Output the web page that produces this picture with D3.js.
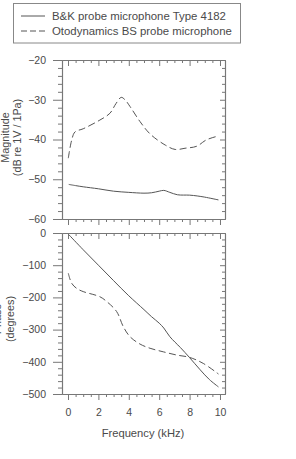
<!DOCTYPE html>
<html lang="en">
<head>
<meta charset="UTF-8">
<title>Probe microphone response</title>
<script src="https://d3js.org/d3.v7.min.js"></script>
<style>
    body { margin: 0; background: #fff; }
    svg text { font-family: "Liberation Sans", Arial, sans-serif; fill: #4a4a4a; }
</style>
</head>
<body>
<div id="chart"></div>
<script>
    // legend labels
    const seriesNames = ["B&K probe microphone Type 4182", "Otodynamics BS probe microphone"];

    // magnitude (dB re 1V/1Pa)
    const bkMagFreq = [0.05, 0.5, 1, 2, 3, 4, 5, 5.5, 6, 6.3, 6.7, 7.2, 8, 8.5, 9, 9.9];
    const bkMag = [-51.3, -51.6, -51.9, -52.4, -53.0, -53.3, -53.5, -53.4, -53.0, -52.8, -53.3, -53.9, -54.0, -54.2, -54.5, -55.2];

    const otoMagFreq = [0.02, 0.24, 0.46, 1.0, 2.1, 2.76, 3.15, 3.5, 3.75, 4.08, 4.74, 5.4, 6.4, 7.05, 7.7, 8.47, 9.1, 9.9];
    const otoMag = [-44.7, -40.2, -38.1, -37.3, -35.1, -33.4, -31.0, -29.4, -30.0, -31.7, -35.5, -38.6, -41.4, -42.5, -42.2, -41.7, -40.1, -39.1];

    // phase (degrees)
    const bkPhaseFreq = [0.05, 1, 2, 3, 4, 5, 5.5, 6, 6.3, 6.7, 7.4, 8, 8.7, 9.3, 9.9];
    const bkPhase = [-5, -52, -100, -148, -195, -238, -260, -280, -295, -322, -356, -387, -425, -455, -478];

    const otoPhaseFreq = [0.02, 0.24, 0.57, 1.0, 2.1, 2.55, 3.2, 3.64, 4.08, 4.74, 5.4, 6.27, 7.15, 7.98, 8.9, 9.9];
    const otoPhase = [-125, -156, -172, -182, -198, -213, -244, -291, -322, -345, -358, -369, -379, -386, -405, -438];

    // ticks
    const freqTicks = [0, 2, 4, 6, 8, 10];
    const magTicks = [-20, -30, -40, -50, -60];
    const phaseTicks = [0, -100, -200, -300, -400, -500];

    const width = 296, height = 459;
    const left = 62, right = 225;
    const lineColor = "#555";
    const axisColor = "#777";

    const svg = d3.select("#chart").append("svg")
        .attr("width", width)
        .attr("height", height);

    const x = d3.scaleLinear().domain([-0.395, 10.33]).range([left, right]);
    const yMag = d3.scaleLinear().domain([-60, -20]).range([219, 60]);
    const yPhase = d3.scaleLinear().domain([-500, 0]).range([394, 233]);

    const minorFreq = d3.range(0, 10.01, 0.5).filter(v => v % 2 !== 0);

    function styleAxis(g) {
        g.selectAll("path").attr("stroke", axisColor).attr("stroke-width", 1.1);
        g.selectAll("line").attr("stroke", axisColor);
        g.selectAll("text").attr("fill", "#4a4a4a")
            .style("font-size", "10.5px")
            .attr("font-family", "Liberation Sans, Arial, sans-serif");
    }

    function drawPanel(y, ticks, minorStep, showXLabels) {
        const [d0, d1] = y.domain();
        const minorY = d3.range(d0, d1 + 0.01, minorStep).filter(v => ticks.indexOf(v) < 0);

        // left axis, ticks outside
        svg.append("g").attr("transform", `translate(${left},0)`)
            .call(d3.axisLeft(y).tickValues(minorY).tickSize(4).tickSizeOuter(0).tickFormat(""))
            .call(styleAxis);
        svg.append("g").attr("transform", `translate(${left},0)`)
            .call(d3.axisLeft(y).tickValues(ticks).tickSize(9).tickSizeOuter(0).tickPadding(7))
            .call(styleAxis);

        // right axis, ticks inside
        svg.append("g").attr("transform", `translate(${right},0)`)
            .call(d3.axisLeft(y).tickValues(minorY).tickSize(3).tickSizeOuter(0).tickFormat(""))
            .call(styleAxis);
        svg.append("g").attr("transform", `translate(${right},0)`)
            .call(d3.axisLeft(y).tickValues(ticks).tickSize(5).tickSizeOuter(0).tickFormat(""))
            .call(styleAxis);

        // top and bottom axes, ticks pointing down
        [y.range()[1], y.range()[0]].forEach((yy, i) => {
            svg.append("g").attr("transform", `translate(0,${yy})`)
                .call(d3.axisBottom(x).tickValues(minorFreq).tickSize(3).tickSizeOuter(0).tickFormat(""))
                .call(styleAxis);
            const major = d3.axisBottom(x).tickValues(freqTicks).tickSize(6).tickSizeOuter(0).tickPadding(9);
            if (!(showXLabels && i === 1)) major.tickFormat("");
            svg.append("g").attr("transform", `translate(0,${yy})`)
                .call(major)
                .call(styleAxis);
        });
    }

    drawPanel(yMag, magTicks, 2, false);
    drawPanel(yPhase, phaseTicks, 20, true);

    function drawLine(freq, vals, y, dashed) {
        const pts = freq.map((f, i) => [f, vals[i]]);
        const line = d3.line()
            .x(d => x(d[0]))
            .y(d => y(d[1]))
            .curve(d3.curveCatmullRom.alpha(0.5));
        svg.append("path")
            .datum(pts)
            .attr("d", line)
            .attr("fill", "none")
            .attr("stroke", lineColor)
            .attr("stroke-width", 1)
            .attr("stroke-dasharray", dashed ? "7,3.5" : null);
    }

    drawLine(bkMagFreq, bkMag, yMag, false);
    drawLine(otoMagFreq, otoMag, yMag, true);
    drawLine(bkPhaseFreq, bkPhase, yPhase, false);
    drawLine(otoPhaseFreq, otoPhase, yPhase, true);

    // axis titles
    function yTitle(lines, cy) {
        lines.forEach(([txt, bx]) => {
            svg.append("text")
                .attr("transform", `translate(${bx},${cy}) rotate(-90)`)
                .attr("text-anchor", "middle")
                .style("font-size", "10.8px")
                .text(txt);
        });
    }
    yTitle([["Magnitude", 9], ["(dB re 1V / 1Pa)", 21]], 137.5);
    yTitle([["Phase", 1], ["(degrees)", 13.5]], 319);

    svg.append("text")
        .attr("x", x(5) - 1)
        .attr("y", 437)
        .attr("text-anchor", "middle")
        .style("font-size", "11.2px")
        .text("Frequency (kHz)");

    // legend
    const legend = svg.append("g");
    legend.append("rect")
        .attr("x", 13.5).attr("y", 3.5)
        .attr("width", 227).attr("height", 39.5)
        .attr("fill", "#fff")
        .attr("stroke", "#888");
    seriesNames.forEach((name, i) => {
        const ly = 16 + i * 15;
        legend.append("line")
            .attr("x1", 21).attr("x2", 45)
            .attr("y1", ly).attr("y2", ly)
            .attr("stroke", lineColor)
            .attr("stroke-dasharray", i === 1 ? "6,3" : null);
        legend.append("text")
            .attr("x", 52).attr("y", ly + 4)
            .style("font-size", "11.4px")
            .text(name);
    });
</script>
</body>
</html>
